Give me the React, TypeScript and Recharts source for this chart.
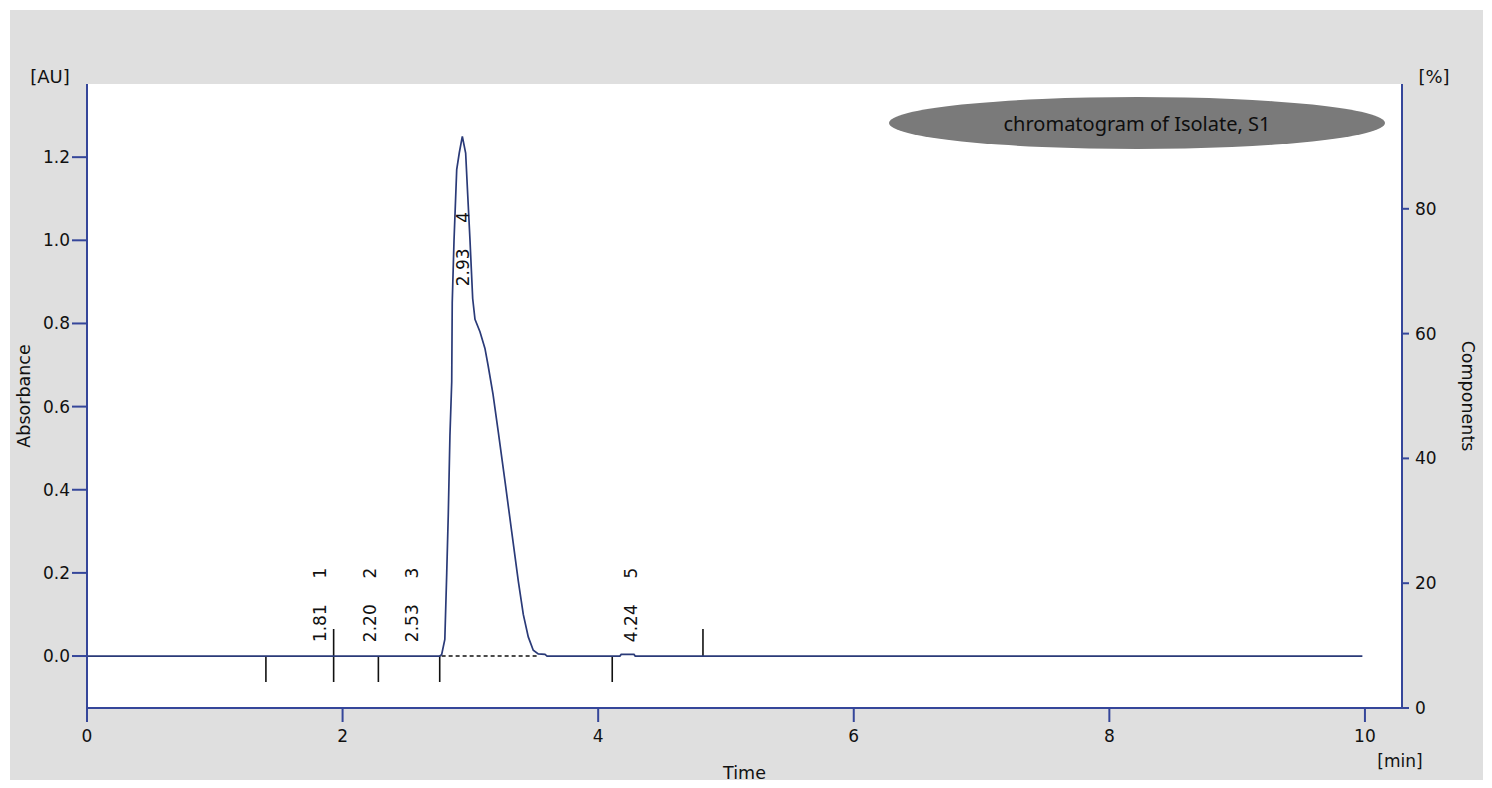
import React from "react";
import {
  ComposedChart,
  Line,
  Scatter,
  XAxis,
  YAxis,
  CartesianGrid,
  ReferenceLine,
  Legend,
  Label,
} from "recharts";

// chromatogram trace, time in min / absorbance in AU
const times = [
  0, 2.76, 2.775, 2.8, 2.815, 2.827, 2.84, 2.854, 2.858, 2.872, 2.893, 2.913, 2.937,
  2.963, 2.979, 2.997, 3.018, 3.036, 3.075, 3.114, 3.138, 3.177, 3.218, 3.271, 3.323,
  3.375, 3.414, 3.453, 3.492, 3.531, 3.584, 3.6, 4.17, 4.18, 4.28, 4.29, 9.98,
];
const absorbance = [
  0, 0, 0.003, 0.04, 0.2, 0.34, 0.53, 0.66, 0.85, 1.0, 1.17, 1.21, 1.25,
  1.21, 1.11, 1.0, 0.86, 0.81, 0.78, 0.74, 0.7, 0.63, 0.54, 0.42, 0.3,
  0.18, 0.1, 0.046, 0.014, 0.005, 0.004, 0, 0, 0.004, 0.004, 0, 0,
];

// detected peaks
const peakNumbers = [1, 2, 3, 4, 5];
const peakTimes = [1.81, 2.2, 2.53, 2.93, 4.24];
const peakHeights = [0, 0, 0, 1.25, 0.004];

// peak window markers
const lowMarks = [1.4, 1.93, 2.28, 2.76, 4.11];
const highMarks = [1.93, 4.82];
const integrationBaseline = [2.775, 3.52];

const xTicks = [0, 2, 4, 6, 8, 10];
const auTicks = [0, 0.2, 0.4, 0.6, 0.8, 1.0, 1.2];
const pctTicks = [0, 20, 40, 60, 80];

const data = times.map((t, i) => ({ t, au: absorbance[i] }));
const peakData = peakTimes.map((t, i) => ({
  t,
  level: Math.max(0.079, peakHeights[i] - 0.315),
  no: peakNumbers[i],
}));

const AXIS = "#35469a";
const TRACE = "#2a3a78";
const FONT = "DejaVu Sans";
const tickStyle = { fill: "#111", fontSize: 17, fontFamily: FONT };

const PeakLabel = (props: any) => {
  const { cx, cy, payload } = props;
  const txt = { fontSize: 17, fontFamily: FONT, fill: "#111", textAnchor: "middle" as const, dominantBaseline: "central" as const };
  return (
    <g>
      <text x={cx + 2} y={cy} transform={`rotate(-90 ${cx + 2} ${cy})`} {...txt}>
        {payload.t.toFixed(2)}
      </text>
      <text x={cx + 2} y={cy - 50} transform={`rotate(-90 ${cx + 2} ${cy - 50})`} {...txt}>
        {payload.no}
      </text>
    </g>
  );
};

const unit = (text: string, dx: number, dy: number, size = 18) => (props: any) => {
  const vb = props.viewBox;
  return (
    <text x={vb.x + dx} y={vb.y + dy} textAnchor="middle" fontSize={size} fontFamily={FONT} fill="#111">
      {text}
    </text>
  );
};

const TitleBadge = () => (
  <svg width={500} height={54} style={{ display: "block" }}>
    <ellipse cx={248} cy={27} rx={248} ry={26} fill="#7a7a7a" />
    <text x={248} y={27} textAnchor="middle" dominantBaseline="central" fontSize={20} fontFamily="Noto Sans" fill="#0e0e0e">
      chromatogram of Isolate, S1
    </text>
  </svg>
);

export default function App() {
  return (
    <div style={{ position: "absolute", left: 0, top: 0, width: 1492, height: 788, background: "#fff" }}>
      <div style={{ position: "absolute", left: 10, top: 10, width: 1473, height: 770, background: "#dfdfdf" }} />
      <div style={{ position: "absolute", left: 0, top: 0 }}>
        <ComposedChart width={1492} height={788} data={data} margin={{ top: 84, right: 0, bottom: 0, left: 0 }}>
          <CartesianGrid yAxisId="au" fill="#fff" horizontal={false} vertical={false} />
          <XAxis
            dataKey="t"
            type="number"
            domain={[0, 10.29]}
            allowDataOverflow
            ticks={xTicks}
            height={80}
            tickSize={14}
            tickMargin={8}
            tick={tickStyle}
            axisLine={{ stroke: AXIS, strokeWidth: 2 }}
            tickLine={{ stroke: AXIS, strokeWidth: 2 }}
          >
            <Label value="Time" position="insideBottom" offset={9} style={{ fontSize: 17.5, fontFamily: FONT, fill: "#111" }} />
            <Label content={unit("[min]", 1313, 59, 17)} />
          </XAxis>
          <XAxis
            xAxisId="top"
            orientation="top"
            type="number"
            domain={[0, 10.29]}
            allowDataOverflow
            height={0}
            tick={false}
            tickLine={false}
            axisLine={{ stroke: AXIS, strokeWidth: 2 }}
          />
          <YAxis
            yAxisId="au"
            type="number"
            domain={[-0.125, 1.376]}
            allowDataOverflow
            ticks={auTicks}
            width={87}
            tickSize={15}
            tickMargin={2}
            tick={tickStyle}
            tickFormatter={(v: number) => v.toFixed(1)}
            axisLine={{ stroke: AXIS, strokeWidth: 2 }}
            tickLine={{ stroke: AXIS, strokeWidth: 2 }}
          >
            <Label
              value="Absorbance"
              angle={-90}
              position="insideLeft"
              offset={24}
              style={{ fontSize: 17.5, fontFamily: FONT, fill: "#111", textAnchor: "middle" }}
            />
            <Label content={unit("[AU]", 50, -1)} />
          </YAxis>
          <YAxis
            yAxisId="pct"
            orientation="right"
            type="number"
            domain={[0, 100]}
            allowDataOverflow
            ticks={pctTicks}
            width={90}
            tickSize={7}
            tickMargin={6}
            tick={tickStyle}
            axisLine={{ stroke: AXIS, strokeWidth: 2 }}
            tickLine={{ stroke: AXIS, strokeWidth: 2 }}
          >
            <Label
              value="Components"
              angle={90}
              position="insideRight"
              offset={24}
              style={{ fontSize: 17.5, fontFamily: FONT, fill: "#111", textAnchor: "middle" }}
            />
            <Label content={unit("[%]", 32, -1)} />
          </YAxis>
          <Legend
            layout="vertical"
            align="center"
            verticalAlign="middle"
            content={() => <TitleBadge />}
            wrapperStyle={{ position: "absolute", left: 889, top: 96, width: 500 }}
          />
          {lowMarks.map((t) => (
            <ReferenceLine
              key={`lo${t}`}
              yAxisId="au"
              segment={[{ x: t, y: 0 }, { x: t, y: -0.0625 }]}
              stroke="#111"
              strokeWidth={1.6}
            />
          ))}
          {highMarks.map((t) => (
            <ReferenceLine
              key={`hi${t}`}
              yAxisId="au"
              segment={[{ x: t, y: 0 }, { x: t, y: 0.065 }]}
              stroke="#111"
              strokeWidth={1.6}
            />
          ))}
          <ReferenceLine
            yAxisId="au"
            segment={[{ x: integrationBaseline[0], y: 0 }, { x: integrationBaseline[1], y: 0 }]}
            stroke="#111"
            strokeWidth={1.4}
            strokeDasharray="4 3"
          />
          <Line
            yAxisId="au"
            dataKey="au"
            type="linear"
            stroke={TRACE}
            strokeWidth={1.7}
            dot={false}
            activeDot={false}
            isAnimationActive={false}
          />
          <Scatter
            yAxisId="au"
            data={peakData}
            dataKey="level"
            shape={PeakLabel}
            isAnimationActive={false}
          />
        </ComposedChart>
      </div>
    </div>
  );
}
